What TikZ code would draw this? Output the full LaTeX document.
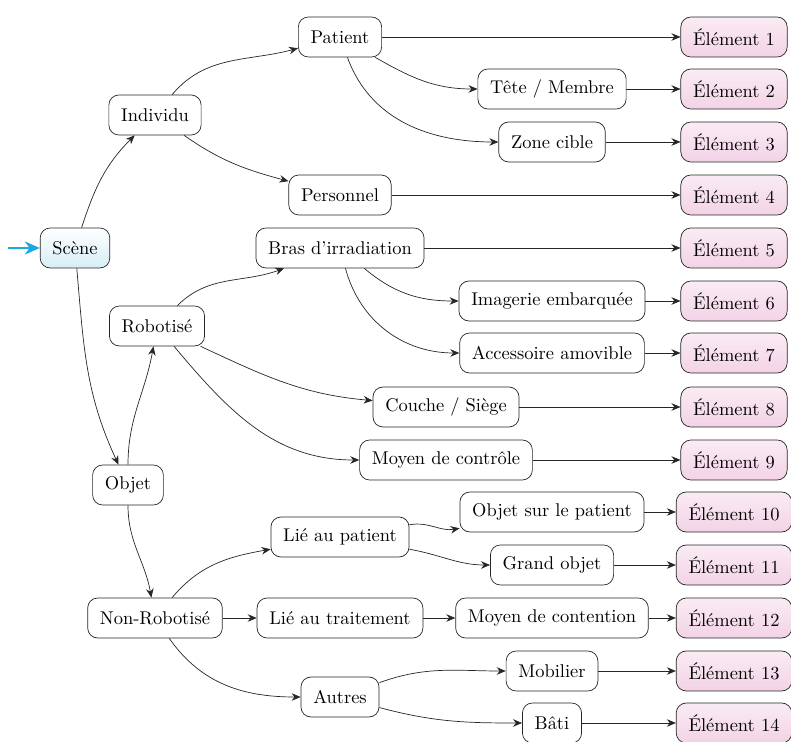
\documentclass[tikz,border=0pt]{standalone}
\usepackage{xcolor}
\usepackage{tikz}
\usetikzlibrary{arrows.meta}
\definecolor{scenecyan}{HTML}{D6EEF6}
\definecolor{leafpink}{HTML}{F3D3E6}
\definecolor{arrowcyan}{HTML}{1BA8E0}

\begin{document}
\begin{tikzpicture}[
  x=0.02cm,y=0.02cm,
  every node/.style={font=\fontsize{10.5}{12.6}\selectfont,align=center},
  box/.style={draw=black!85,rounded corners=2mm,fill=white,minimum height=8mm,inner xsep=7pt},
  root/.style={box,top color=white,bottom color=scenecyan},
  leaf/.style={box,top color=leafpink!45,bottom color=leafpink},
  arr/.style={-{Stealth[length=1.8mm,width=1.5mm]},color=black!85},
  entry/.style={-{Stealth[length=3mm,width=2.6mm]},line width=1.4pt,color=arrowcyan}
]
\useasboundingbox (0,0) rectangle (791,-742);
% racine et premier niveau
\node[root] (scene) at (75,-248) {Scène};
\node[box] (indiv) at (155,-115) {Individu};
\node[box] (objet) at (128,-485) {Objet};
\node[box] (robot) at (157,-326) {Robotisé};
\node[box] (nonrobot) at (155,-618) {Non-Robotisé};
% second niveau
\node[box] (patient) at (340,-37) {Patient};
\node[box] (personnel) at (340,-195) {Personnel};
\node[box] (bras) at (340,-248) {Bras d'irradiation};
\node[box] (couche) at (446,-407) {Couche / Siège};
\node[box] (controle) at (446,-460) {Moyen de contrôle};
\node[box] (liepat) at (340,-537) {Lié au patient};
\node[box] (lietrait) at (340,-618) {Lié au traitement};
\node[box] (autres) at (340,-697) {Autres};
% troisieme niveau
\node[box] (tete) at (552,-89) {Tête / Membre};
\node[box] (zone) at (552,-142) {Zone cible};
\node[box] (imagerie) at (552,-301) {Imagerie embarquée};
\node[box] (accessoire) at (552,-353) {Accessoire amovible};
\node[box] (objsur) at (552,-512) {Objet sur le patient};
\node[box] (grand) at (552,-565) {Grand objet};
\node[box] (contention) at (552,-618) {Moyen de contention};
\node[box] (mobilier) at (552,-671) {Mobilier};
\node[box] (bati) at (552,-723) {Bâti};
% elements
\foreach \i/\y in {1/37,2/89,3/142,4/195,5/248,6/301,7/353,8/407,9/460,10/512,11/565,12/618,13/671,14/723}
  \node[leaf] (e\i) at (734,-\y) {Élément \i};

\coordinate (start) at (8,-248);
\draw[entry] (start) -- (scene);

\draw[arr] (scene) to[out=72,in=225] (indiv);
\draw[arr] (scene) to[out=-85,in=115] (objet);
\draw[arr] (indiv) to[out=50,in=195] (patient);
\draw[arr] (indiv) to[out=-35,in=165] (personnel);
\draw[arr] (patient) to[out=-30,in=180] (tete);
\draw[arr] (patient) to[out=-70,in=180] (zone);
\draw[arr] (objet) to[out=90,in=-100] (robot);
\draw[arr] (objet) to[out=-90,in=100] (nonrobot);
\draw[arr] (robot) to[out=45,in=200] (bras);
\draw[arr] (robot) to[out=-25,in=175] (couche);
\draw[arr] (robot) to[out=-50,in=180] (controle);
\draw[arr] (bras) to[out=-40,in=180] (imagerie);
\draw[arr] (bras) to[out=-75,in=180] (accessoire);
\draw[arr] (nonrobot) to[out=50,in=190] (liepat);
\draw[arr] (nonrobot) -- (lietrait);
\draw[arr] (nonrobot) to[out=-55,in=180] (autres);
\draw[arr] (liepat) to[out=10,in=190] (objsur);
\draw[arr] (liepat) to[out=-10,in=180] (grand);
\draw[arr] (lietrait) -- (contention);
\draw[arr] (autres) to[out=20,in=180] (mobilier);
\draw[arr] (autres) to[out=-15,in=180] (bati);

\draw[arr] (patient) -- (e1);
\draw[arr] (tete) -- (e2);
\draw[arr] (zone) -- (e3);
\draw[arr] (personnel) -- (e4);
\draw[arr] (bras) -- (e5);
\draw[arr] (imagerie) -- (e6);
\draw[arr] (accessoire) -- (e7);
\draw[arr] (couche) -- (e8);
\draw[arr] (controle) -- (e9);
\draw[arr] (objsur) -- (e10);
\draw[arr] (grand) -- (e11);
\draw[arr] (contention) -- (e12);
\draw[arr] (mobilier) -- (e13);
\draw[arr] (bati) -- (e14);
\end{tikzpicture}
\end{document}
